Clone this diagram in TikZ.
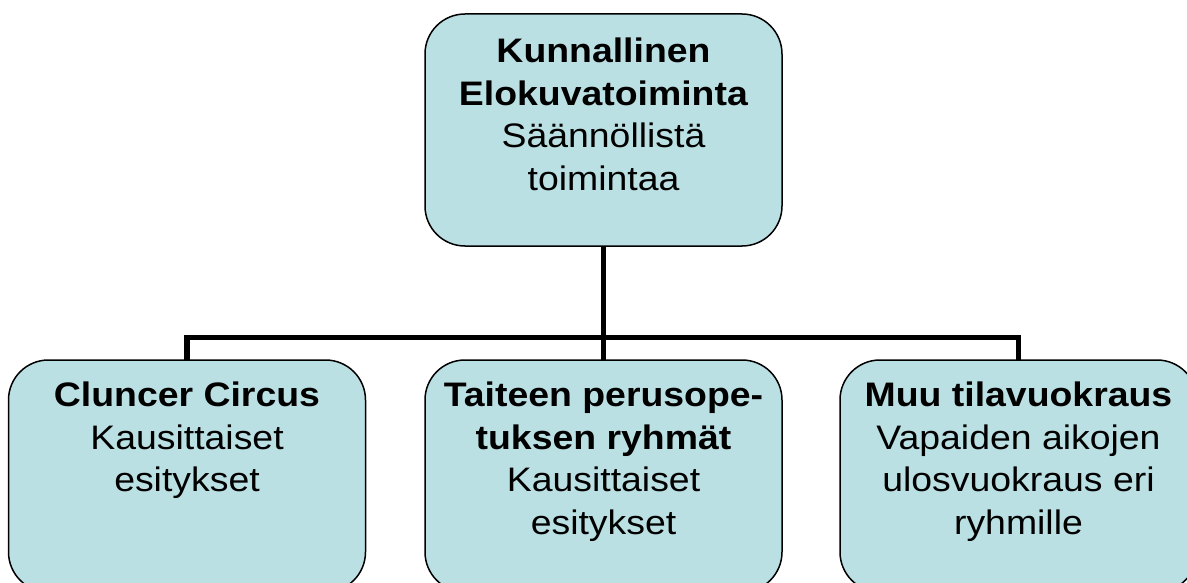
\documentclass[tikz,border=0pt]{standalone}
\usepackage{fontspec}
\setmainfont{Liberation Sans}[FakeStretch=1.1]
\definecolor{boxfill}{HTML}{BBE0E3}
\tikzset{
  orgbox/.style={draw=black, line width=1.5pt, fill=boxfill, rounded corners=40pt,
    inner sep=0pt, outer sep=0pt, font=\fontsize{34}{42.5}\selectfont},
  conn/.style={draw=black, line width=5.5pt, line join=miter}
}
\newcommand{\boxtext}[2]{\parbox[t][232pt][t]{357pt}{\centering\vspace*{#1}#2\par}}
\begin{document}
\begin{tikzpicture}[x=1pt,y=-1pt]
\useasboundingbox (0,0) rectangle (1187,583);
\clip (0,0) rectangle (1187,583);
\node[orgbox] (top) at (603.5,130) {\boxtext{24pt}{\textbf{Kunnallinen}\\\textbf{Elokuvatoiminta}\\Säännöllistä\\toimintaa}};
\node[orgbox] (left) at (187,476) {\boxtext{22pt}{\textbf{Cluncer Circus}\\Kausittaiset\\esitykset}};
\node[orgbox] (mid) at (603.5,476) {\boxtext{22pt}{\textbf{Taiteen perusope-}\\\textbf{tuksen ryhmät}\\Kausittaiset\\esitykset}};
\node[orgbox] (right) at (1018.5,476) {\boxtext{22pt}{\textbf{Muu tilavuokraus}\\Vapaiden aikojen\\ulosvuokraus eri\\ryhmille}};
\coordinate (hub) at (603.5,337.5);
\draw[conn] (top.south) -- (mid.north);
\draw[conn] (left.north) |- (hub) -| (right.north);
\end{tikzpicture}
\end{document}
